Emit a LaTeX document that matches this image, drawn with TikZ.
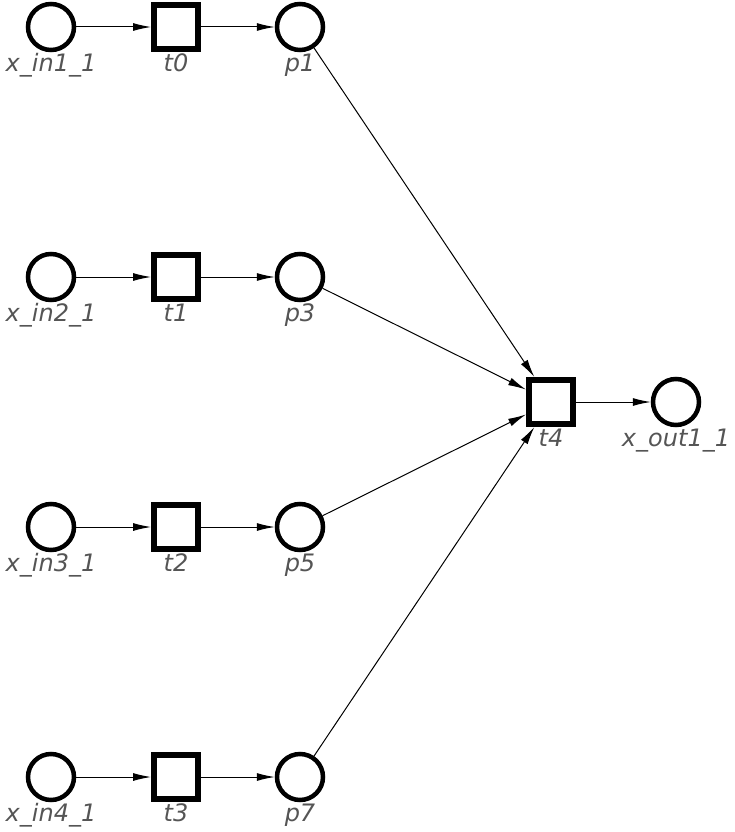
\documentclass[tikz,border=0pt]{standalone}
\usepackage{fontspec}
\setsansfont{DejaVu Sans}
\usetikzlibrary{arrows.meta}
\definecolor{labelgray}{RGB}{85,85,85}
\begin{document}
\begin{tikzpicture}[x=1pt, y=-1pt, label distance=19.5pt,
    place/.style={draw, circle, line width=4.5pt, minimum size=46pt, inner sep=0pt},
    trans/.style={draw, rectangle, line width=6pt, minimum size=44pt, inner sep=0pt},
    lbl/.style={anchor=base, inner sep=0pt, text=labelgray, font=\sffamily\itshape\fontsize{24}{28}\selectfont},
    arc/.style={-{Latex[length=18pt,width=8pt]}, line width=1pt}]
\useasboundingbox (0,0) rectangle (735,832);

\node [place, label={[lbl]below:x\_in1\_1}] (xin1) at (51,27) {};
\node [trans, label={[lbl]below:t0}] (t0) at (176,27) {};
\node [place, label={[lbl]below:p1}] (p1) at (300,27) {};

\node [place, label={[lbl]below:x\_in2\_1}] (xin2) at (51,277) {};
\node [trans, label={[lbl]below:t1}] (t1) at (176,277) {};
\node [place, label={[lbl]below:p3}] (p3) at (300,277) {};

\node [place, label={[lbl]below:x\_in3\_1}] (xin3) at (51,527) {};
\node [trans, label={[lbl]below:t2}] (t2) at (176,527) {};
\node [place, label={[lbl]below:p5}] (p5) at (300,527) {};

\node [place, label={[lbl]below:x\_in4\_1}] (xin4) at (51,777) {};
\node [trans, label={[lbl]below:t3}] (t3) at (176,777) {};
\node [place, label={[lbl]below:p7}] (p7) at (300,777) {};

\node [trans, label={[lbl]below:t4}] (t4) at (551,402) {};
\node [place, label={[lbl]below:x\_out1\_1}] (xout1) at (676,402) {};

\draw [arc] (xin1) -- (t0);
\draw [arc] (t0) -- (p1);
\draw [arc] (xin2) -- (t1);
\draw [arc] (t1) -- (p3);
\draw [arc] (xin3) -- (t2);
\draw [arc] (t2) -- (p5);
\draw [arc] (xin4) -- (t3);
\draw [arc] (t3) -- (p7);

\draw [arc] (p1) -- (t4);
\draw [arc] (p3) -- (t4);
\draw [arc] (p5) -- (t4);
\draw [arc] (p7) -- (t4);
\draw [arc] (t4) -- (xout1);

\end{tikzpicture}
\end{document}
